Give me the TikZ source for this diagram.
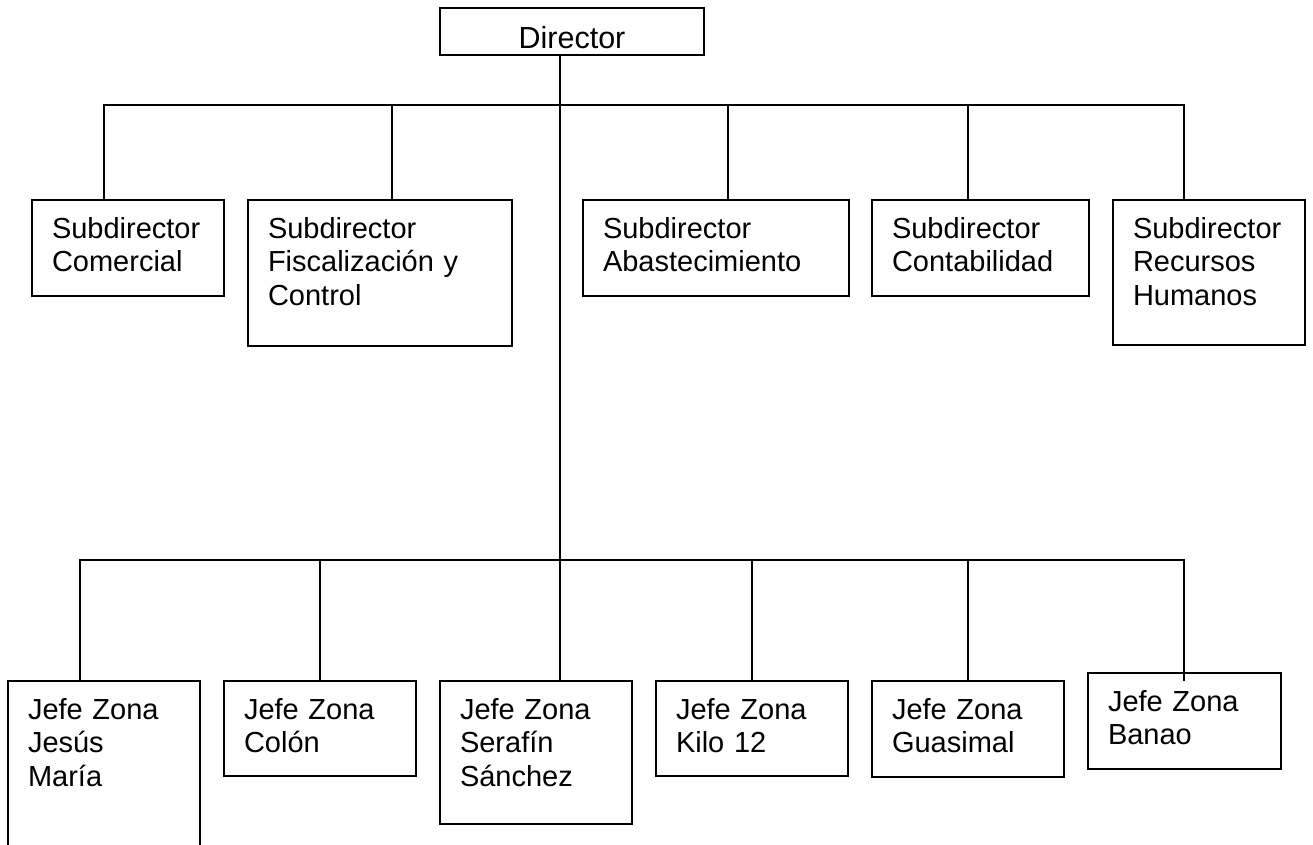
\documentclass[tikz,border=0pt]{standalone}
\usepackage{fontspec}
\setmainfont{Liberation Sans}
\usepackage{tikz}
\usetikzlibrary{positioning}
\tikzstyle{box} = [draw, line width=1.8pt, anchor=north west, align=left, inner xsep=20pt, inner ysep=0pt, outer sep=0pt, text height=38pt, font=\fontsize{29}{33.5}\selectfont]
\tikzstyle{dbox} = [draw, line width=1.8pt, anchor=north west, align=center, inner xsep=0pt, inner ysep=0pt, outer sep=0pt, text width=264pt, text height=40pt, text depth=7pt, font=\fontsize{30.5}{33.5}\selectfont]
\tikzstyle{line} = [draw, line width=1.8pt]

\begin{document}
\begin{tikzpicture}[x=1pt, y=-1pt]
			\clip (0,0) rectangle (1313,844);
			\node [dbox] (dir) at (440,8) {Director};
			
			% subdirectores
			\node [box, text width=152pt, text depth=58pt] (com) at (32,200) {Subdirector\\Comercial};
			\node [box, text width=224pt, text depth=108pt] (fis) at (248,200) {Subdirector\\Fiscalización y\\Control};
			\node [box, text width=226pt, text depth=58pt] (aba) at (583,200) {Subdirector\\Abastecimiento};
			\node [box, text width=177pt, text depth=58pt] (con) at (872,200) {Subdirector\\Contabilidad};
			\node [box, text width=152pt, text depth=107pt] (rh) at (1113,200) {Subdirector\\Recursos\\Humanos};
			
			% jefes de zona
			\node [box, text width=152pt, text depth=131pt] (jm) at (8,681) {Jefe Zona\\Jesús\\María};
			\node [box, text width=152pt, text depth=57pt] (col) at (224,681) {Jefe Zona\\Colón};
			\node [box, text width=152pt, text depth=105pt] (ss) at (440,681) {Jefe Zona\\Serafín\\Sánchez};
			\node [box, text width=152pt, text depth=57pt] (k12) at (656,681) {Jefe Zona\\Kilo 12};
			\node [box, text width=152pt, text depth=58pt] (gua) at (872,681) {Jefe Zona\\Guasimal};
			\node [box, text width=153pt, text depth=58pt] (ban) at (1088,673) {Jefe Zona\\Banao};
			
			\coordinate (t1) at (104,105);
			\coordinate (t2) at (392,105);
			\coordinate (t4) at (728,105);
			\coordinate (t5) at (968,105);
			\coordinate (t6) at (1184,105);
			\coordinate (b1) at (80,560);
			\coordinate (b2) at (320,560);
			\coordinate (b3) at (560,560);
			\coordinate (b4) at (752,560);
			\coordinate (b5) at (968,560);
			\coordinate (b6) at (1184,560);
			\coordinate (b6end) at (1184,681);
			
			\path [line] (b3 |- dir.south) -- (b3 |- ss.north);
			\path [line] (t1 |- com.north) -- (t1) -- (t6) -- (t6 |- rh.north);
			\path [line] (t2) -- (t2 |- fis.north);
			\path [line] (t4) -- (t4 |- aba.north);
			\path [line] (t5) -- (t5 |- con.north);
			\path [line] (b1 |- jm.north) -- (b1) -- (b6) -- (b6end);
			\path [line] (b2) -- (b2 |- col.north);
			\path [line] (b4) -- (b4 |- k12.north);
			\path [line] (b5) -- (b5 |- gua.north);
		\end{tikzpicture}
\end{document}
